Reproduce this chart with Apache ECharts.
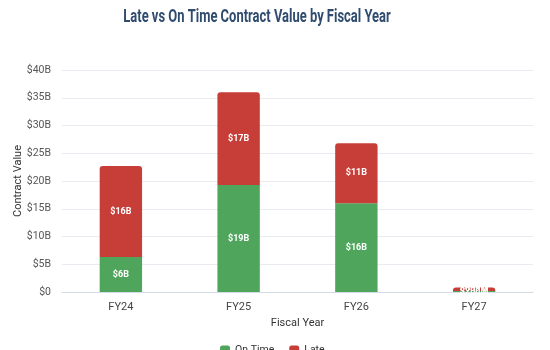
<!DOCTYPE html>
<html>
<head>
<meta charset="utf-8">
<script src="https://cdn.jsdelivr.net/npm/echarts@6/dist/echarts.min.js"></script>
<style>
  html, body { margin: 0; padding: 0; background: #fff; }
  #chart { width: 550px; height: 350px; }
</style>
</head>
<body>
<div id="chart"></div>
<script>
// values in billions
var years = ['FY24', 'FY25', 'FY26', 'FY27'];
var onTime = [6.3, 19.3, 16.0, 0.2];
var late = [16.4, 16.7, 10.8, 0.609];

function money(v) {
  if (v < 1) return '$' + Math.round(v * 1000) + 'M';
  return '$' + Math.round(v) + 'B';
}

var myChart = echarts.init(document.getElementById('chart'));

var labelStyle = {
  show: true,
  position: 'inside',
  color: '#fff',
  fontFamily: 'Roboto',
  fontWeight: 'bold',
  fontSize: 9,
  formatter: function (p) { return money(p.value); }
};

var option = {
  animation: false,
  // condensed title: no condensed font installed, so squeeze a normal one
  graphic: [{
    type: 'text',
    x: 257,
    y: 17,
    scaleX: 0.72,
    style: {
      text: 'Late vs On Time Contract Value by Fiscal Year',
      font: 'bold 18px Roboto',
      fill: '#2f4b6e',
      align: 'center',
      verticalAlign: 'middle'
    }
  }],
  grid: {
    left: 62,
    right: 17,
    top: 70,
    bottom: 58,
    outerBoundsMode: 'none'
  },
  legend: {
    bottom: -11,
    left: 215,
    itemWidth: 10,
    itemHeight: 10,
    itemGap: 15,
    icon: 'roundRect',
    textStyle: { fontFamily: 'Roboto', fontSize: 10.5, color: '#333' },
    data: ['On Time', 'Late']
  },
  xAxis: {
    type: 'category',
    data: years,
    name: 'Fiscal Year',
    nameLocation: 'middle',
    nameGap: 26,
    nameMoveOverlap: false,
    nameTextStyle: { fontFamily: 'Roboto', fontSize: 11, color: '#333' },
    axisLine: { lineStyle: { color: '#d4dbe6' } },
    axisTick: { show: false },
    axisLabel: { fontFamily: 'Roboto', fontSize: 11, color: '#444', margin: 10 }
  },
  yAxis: {
    type: 'value',
    min: 0,
    max: 40,
    interval: 5,
    name: 'Contract Value',
    nameLocation: 'middle',
    nameGap: 38,
    nameMoveOverlap: false,
    nameTextStyle: { fontFamily: 'Roboto', fontSize: 11, color: '#333' },
    axisLabel: {
      fontFamily: 'Roboto',
      fontSize: 10.5,
      color: '#555',
      margin: 11,
      formatter: function (v) { return v === 0 ? '$0' : '$' + v + 'B'; }
    },
    splitLine: { lineStyle: { color: '#e8ecf1' } }
  },
  series: [
    {
      name: 'On Time',
      type: 'bar',
      stack: 'total',
      barWidth: '36%',
      itemStyle: { color: '#4ea55b' },
      label: labelStyle,
      labelLayout: { hideOverlap: true },
      data: onTime
    },
    {
      name: 'Late',
      type: 'bar',
      stack: 'total',
      itemStyle: { color: '#c73e38', borderRadius: [3, 3, 0, 0] },
      label: labelStyle,
      data: late
    }
  ]
};

myChart.setOption(option);
</script>
</body>
</html>
